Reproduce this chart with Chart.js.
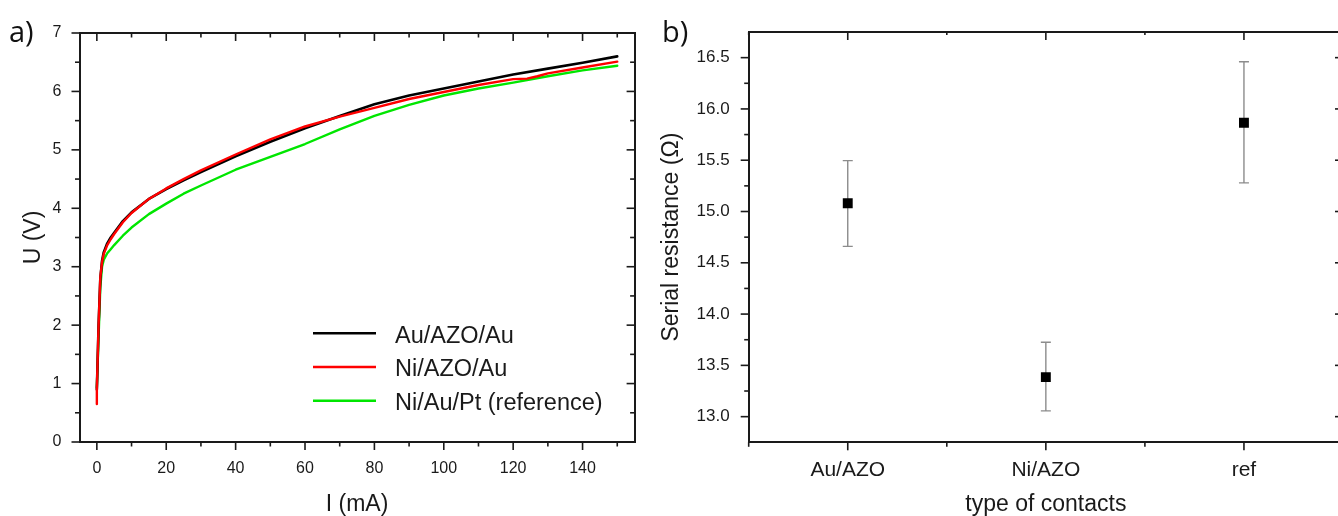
<!DOCTYPE html>
<html>
<head>
<meta charset="utf-8">
<script src="https://cdn.jsdelivr.net/npm/chart.js@4.4.0/dist/chart.umd.min.js"></script>
<style>
  html, body { margin: 0; padding: 0; background: #fff; overflow: hidden; }
  body { width: 1338px; height: 516px; position: relative; }
  #ivChart { position: absolute; left: 0; top: 0; }
  #resChart { position: absolute; left: 650px; top: 0; }
  .panel { position: absolute; font-family: "Open Sans", sans-serif; font-size: 29px; line-height: 32px; color: #111; }
</style>
</head>
<body>
<canvas id="ivChart" width="650" height="516"></canvas>
<canvas id="resChart" width="700" height="516"></canvas>
<div class="panel" style="left:9px;top:15px">a)</div>
<div class="panel" style="left:662px;top:15px">b)</div>
<script>
// a) I-V curves
var current = [0, 0.5, 1, 1.5, 2, 3, 4, 5, 7.5, 10, 15, 20, 25, 30, 40, 50, 60, 70, 80, 90, 100, 110, 120, 130, 140, 150];
var voltageAu = [0.9, 2.0, 2.8, 3.1, 3.25, 3.4, 3.5, 3.58, 3.78, 3.93, 4.16, 4.33, 4.48, 4.62, 4.89, 5.14, 5.37, 5.58, 5.78, 5.93, 6.05, 6.17, 6.29, 6.39, 6.49, 6.60];
var voltageRef = [0.93, 1.8, 2.65, 3.0, 3.12, 3.23, 3.3, 3.37, 3.53, 3.67, 3.9, 4.08, 4.25, 4.39, 4.66, 4.88, 5.1, 5.35, 5.58, 5.77, 5.93, 6.05, 6.15, 6.26, 6.36, 6.44];
var currentNi = [0, 0, 0.5, 1, 1.5, 2, 3, 4, 5, 7.5, 10, 15, 20, 25, 30, 40, 50, 60, 70, 80, 90, 100, 110, 120, 124, 127, 130, 140, 150];
var voltageNi = [0.65, 0.92, 2.0, 2.82, 3.08, 3.22, 3.37, 3.47, 3.56, 3.76, 3.92, 4.16, 4.34, 4.5, 4.65, 4.92, 5.18, 5.4, 5.57, 5.72, 5.87, 5.99, 6.11, 6.21, 6.22, 6.26, 6.31, 6.41, 6.51];
var seriesNames = ['Au/AZO/Au', 'Ni/AZO/Au', 'Ni/Au/Pt (reference)'];

var ivXTicks = [0, 20, 40, 60, 80, 100, 120, 140];
var ivXMinor = [10, 30, 50, 70, 90, 110, 130, 150];
var ivYTicks = [0, 1, 2, 3, 4, 5, 6, 7];
var ivYMinor = [0.5, 1.5, 2.5, 3.5, 4.5, 5.5, 6.5];

// b) serial resistance
var contactTypes = ['Au/AZO', 'Ni/AZO', 'ref'];
var resistance = [15.08, 13.385, 15.866];
var resistanceLow = [14.66, 13.056, 15.279];
var resistanceHigh = [15.496, 13.725, 16.46];
var resYTicks = [13.0, 13.5, 14.0, 14.5, 15.0, 15.5, 16.0, 16.5];
var resYMinor = [13.25, 13.75, 14.25, 14.75, 15.25, 15.75, 16.25];
var resXMinor = [-0.5, 0.5, 1.5, 2.5];

var FONT = '"Liberation Sans", Arial, sans-serif';
var INK = '#1a1a1a';

function pairs(xs, ys) {
    return xs.map(function(x, i) { return {x: x, y: ys[i]}; });
}

// tick marks on the frame, inward or outward
var frameTicks = {
    id: 'frameTicks',
    afterDraw: function(chart, args, opts) {
        var ctx = chart.ctx, area = chart.chartArea;
        ctx.save();
        ctx.strokeStyle = INK;
        ctx.lineWidth = 1.6;
        (opts.specs || []).forEach(function(s) {
            var scale = chart.scales[s.scale];
            s.values.forEach(function(v) {
                var p = scale.getPixelForValue(v);
                ctx.beginPath();
                if (s.edge === 'bottom') { ctx.moveTo(p, area.bottom); ctx.lineTo(p, area.bottom + s.dir * s.len); }
                if (s.edge === 'top') { ctx.moveTo(p, area.top); ctx.lineTo(p, area.top - s.dir * s.len); }
                if (s.edge === 'left') { ctx.moveTo(area.left, p); ctx.lineTo(area.left - s.dir * s.len, p); }
                if (s.edge === 'right') { ctx.moveTo(area.right, p); ctx.lineTo(area.right + s.dir * s.len, p); }
                ctx.stroke();
            });
        });
        ctx.restore();
    }
};

var lineLegend = {
    id: 'lineLegend',
    afterDraw: function(chart, args, opts) {
        if (!opts.show) return;
        var ctx = chart.ctx;
        ctx.save();
        ctx.font = opts.size + 'px ' + FONT;
        ctx.textBaseline = 'middle';
        chart.data.datasets.forEach(function(ds, i) {
            var y = opts.y + i * opts.gap;
            ctx.strokeStyle = ds.borderColor;
            ctx.lineWidth = 2.5;
            ctx.beginPath();
            ctx.moveTo(opts.x, y);
            ctx.lineTo(opts.x + opts.len, y);
            ctx.stroke();
            ctx.fillStyle = INK;
            ctx.fillText(ds.label, opts.x + opts.len + opts.space, y + 3);
        });
        ctx.restore();
    }
};

var errorBars = {
    id: 'errorBars',
    beforeDatasetsDraw: function(chart, args, opts) {
        if (!opts.low) return;
        var ctx = chart.ctx, xs = chart.scales.x, ys = chart.scales.y;
        ctx.save();
        ctx.strokeStyle = '#8c8c8c';
        ctx.lineWidth = 1.4;
        opts.low.forEach(function(lo, i) {
            var x = xs.getPixelForValue(i);
            var yl = ys.getPixelForValue(lo), yh = ys.getPixelForValue(opts.high[i]);
            ctx.beginPath();
            ctx.moveTo(x, yl); ctx.lineTo(x, yh);
            ctx.moveTo(x - 5, yl); ctx.lineTo(x + 5, yl);
            ctx.moveTo(x - 5, yh); ctx.lineTo(x + 5, yh);
            ctx.stroke();
        });
        ctx.restore();
    }
};

Chart.register(frameTicks, lineLegend, errorBars);

function frameAxis(pos, size, extra) {
    var a = {
        position: pos,
        grid: {display: false, drawTicks: false},
        border: {display: true, color: INK, width: 2},
        ticks: {display: false},
        afterFit: function(s) { if (s.isHorizontal()) s.height = size; else s.width = size; }
    };
    for (var k in extra) a[k] = extra[k];
    return a;
}

var ivChart = new Chart(document.getElementById('ivChart').getContext('2d'), {
    type: 'scatter',
    data: {
        datasets: [
            {label: seriesNames[0], data: pairs(current, voltageAu), borderColor: '#000000', borderWidth: 2.6, order: 1},
            {label: seriesNames[1], data: pairs(currentNi, voltageNi), borderColor: '#ff0000', borderWidth: 2.4, order: 0},
            {label: seriesNames[2], data: pairs(current, voltageRef), borderColor: '#00e600', borderWidth: 2.4, order: 2}
        ]
    },
    options: {
        responsive: false,
        animation: false,
        showLine: true,
        elements: {point: {radius: 0}, line: {tension: 0, borderCapStyle: 'round', borderJoinStyle: 'round'}},
        layout: {padding: 0},
        plugins: {
            legend: {display: false},
            tooltip: {enabled: false},
            lineLegend: {show: true, x: 313, y: 333.3, gap: 33.7, len: 63, space: 19, size: 23.5},
            frameTicks: {specs: [
                {scale: 'x', edge: 'bottom', dir: 1, len: 8, values: ivXTicks},
                {scale: 'x', edge: 'bottom', dir: 1, len: 4.5, values: ivXMinor},
                {scale: 'x', edge: 'top', dir: -1, len: 8, values: ivXTicks},
                {scale: 'x', edge: 'top', dir: -1, len: 4.5, values: ivXMinor},
                {scale: 'y', edge: 'left', dir: 1, len: 8, values: ivYTicks},
                {scale: 'y', edge: 'left', dir: 1, len: 4.5, values: ivYMinor},
                {scale: 'y', edge: 'right', dir: -1, len: 8, values: ivYTicks},
                {scale: 'y', edge: 'right', dir: -1, len: 4.5, values: ivYMinor}
            ]}
        },
        scales: {
            x: {
                type: 'linear', min: -5, max: 155,
                grid: {display: false, drawTicks: false},
                border: {display: true, color: INK, width: 2},
                afterBuildTicks: function(s) { s.ticks = ivXTicks.map(function(v) { return {value: v}; }); },
                ticks: {font: {family: FONT, size: 16}, color: INK, padding: 17, maxRotation: 0},
                title: {display: true, text: 'I (mA)', color: INK, font: {family: FONT, size: 23, lineHeight: 1}, padding: {top: 0, bottom: 0}},
                afterFit: function(s) { s.height = 74; }
            },
            x2: frameAxis('top', 33, {type: 'linear', min: -5, max: 155}),
            y: {
                type: 'linear', min: 0, max: 7,
                grid: {display: false, drawTicks: false},
                border: {display: true, color: INK, width: 2},
                afterBuildTicks: function(s) { s.ticks = ivYTicks.map(function(v) { return {value: v}; }); },
                ticks: {font: {family: FONT, size: 16}, color: INK, padding: 18},
                title: {display: true, text: 'U (V)', color: INK, font: {family: FONT, size: 23, lineHeight: 1}, padding: {top: 22, bottom: 0}},
                afterFit: function(s) { s.width = 79.5; }
            },
            y2: frameAxis('right', 15.4, {type: 'linear', min: 0, max: 7})
        }
    }
});

var resChart = new Chart(document.getElementById('resChart').getContext('2d'), {
    type: 'line',
    data: {
        labels: contactTypes,
        datasets: [{
            label: 'Serial resistance',
            data: resistance,
            showLine: false,
            pointStyle: 'rect',
            pointRadius: 7,
            backgroundColor: '#000000',
            borderColor: '#000000',
            borderWidth: 0
        }]
    },
    options: {
        responsive: false,
        animation: false,
        layout: {padding: 0},
        plugins: {
            legend: {display: false},
            tooltip: {enabled: false},
            errorBars: {low: resistanceLow, high: resistanceHigh},
            frameTicks: {specs: [
                {scale: 'x', edge: 'bottom', dir: 1, len: 8, values: [0, 1, 2]},
                {scale: 'x', edge: 'bottom', dir: 1, len: 4.5, values: resXMinor},
                {scale: 'x', edge: 'top', dir: -1, len: 8, values: [0, 1, 2]},
                {scale: 'x', edge: 'top', dir: -1, len: 3, values: resXMinor},
                {scale: 'y', edge: 'left', dir: 1, len: 8, values: resYTicks},
                {scale: 'y', edge: 'left', dir: 1, len: 4.5, values: resYMinor},
                {scale: 'y', edge: 'right', dir: -1, len: 8, values: resYTicks},
                {scale: 'y', edge: 'right', dir: -1, len: 4.5, values: resYMinor}
            ]}
        },
        scales: {
            x: {
                type: 'category', offset: true,
                grid: {display: false, drawTicks: false, offset: true},
                border: {display: true, color: INK, width: 2},
                ticks: {font: {family: FONT, size: 21}, color: INK, padding: 15, maxRotation: 0},
                title: {display: true, text: 'type of contacts', color: INK, font: {family: FONT, size: 23, lineHeight: 1}, padding: {top: 0, bottom: 0}},
                afterFit: function(s) { s.height = 73.7; }
            },
            x2: frameAxis('top', 32, {type: 'category', offset: true}),
            y: {
                type: 'linear', min: 12.75, max: 16.75,
                grid: {display: false, drawTicks: false},
                border: {display: true, color: INK, width: 2},
                afterBuildTicks: function(s) { s.ticks = resYTicks.map(function(v) { return {value: v}; }); },
                ticks: {font: {family: FONT, size: 17}, color: INK, padding: 19,
                    callback: function(v) { return Number(v).toFixed(1); }},
                title: {display: true, text: 'Serial resistance (Ω)', color: INK, font: {family: FONT, size: 23, lineHeight: 1}, padding: {top: 10, bottom: 0}},
                afterFit: function(s) { s.width = 98.7; }
            },
            y2: frameAxis('right', 4, {type: 'linear', min: 12.75, max: 16.75})
        }
    }
});
</script>
</body>
</html>
